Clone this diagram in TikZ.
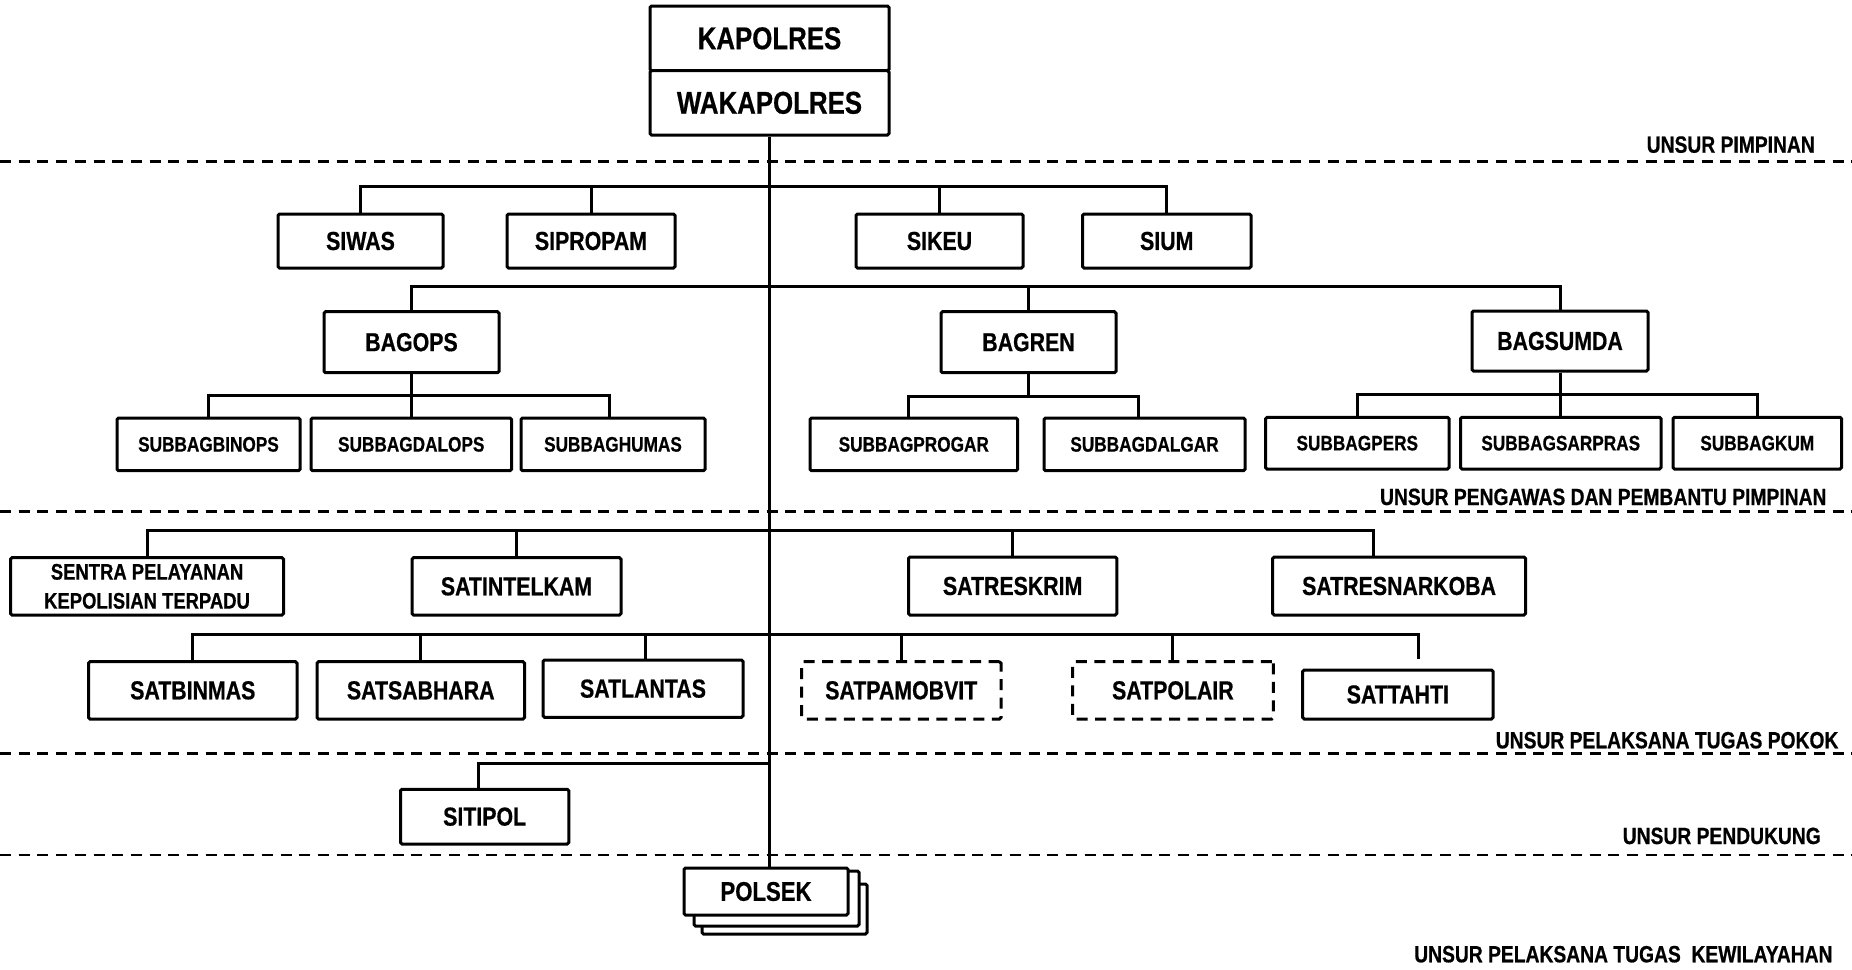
\documentclass[tikz,border=0pt]{standalone}
\usepackage{fontspec}
\setmainfont[FakeStretch=0.82,BoldFeatures={FakeBold=0.6}]{Liberation Sans}
\newcommand\mkbox[7]{%
  \node[#1, minimum width={(#5)-(#3)}, minimum height={(#6)-(#4)}] (#2) at ({((#3)+(#5))/2},{((#4)+(#6))/2}) {#7};}
\begin{document}
\begin{tikzpicture}[x=1pt,y=-1pt,
  box/.style={draw, line width=3pt, fill=white, inner sep=0pt, align=center, rounded corners=1.5pt,
              font=\fontsize{26}{30}\selectfont\bfseries},
  dbox/.style={box, dash pattern=on 11pt off 7.5pt},
  big/.style={font=\fontsize{31.5}{36}\selectfont\bfseries},
  small/.style={font=\fontsize{21}{25}\selectfont\bfseries},
  two/.style={font=\fontsize{22.5}{29}\selectfont\bfseries},
  pol/.style={font=\fontsize{27}{31}\selectfont\bfseries},
  conn/.style={line width=3pt},
  sep/.style={line width=2.7pt, dash pattern=on 11pt off 7.7pt},
  lbl/.style={inner sep=0pt, font=\fontsize{23.5}{27}\selectfont\bfseries}]
\useasboundingbox (0,0) rectangle (1852,969);

% separators
\draw[sep] (0,161.7) -- (1852,161.7);
\draw[sep] (0,511.7) -- (1852,511.7);
\draw[sep] (0,753.3) -- (1852,753.3);
\draw[sep] (0,855) -- (1852,855);

% bus coordinates
\coordinate (b1) at (0,186.7);
\coordinate (b2) at (0,286);
\coordinate (b2a) at (0,395);
\coordinate (b2b) at (0,396);
\coordinate (b2c) at (0,394.3);
\coordinate (b3) at (0,530.7);
\coordinate (b4) at (0,634.3);
\coordinate (b5) at (0,763.3);

% boxes
\mkbox{box,big}{kap}{650}{6}{889}{70.7}{KAPOLRES}
\mkbox{box,big}{wak}{650}{70.7}{889}{135}{WAKAPOLRES}
\mkbox{box}{siwas}{278}{214}{443}{268}{SIWAS}
\mkbox{box}{sipropam}{507}{214}{675}{268}{SIPROPAM}
\mkbox{box}{sikeu}{856}{214}{1023}{268}{SIKEU}
\mkbox{box}{sium}{1082.5}{214}{1251}{268}{SIUM}
\mkbox{box}{bagops}{324}{311.7}{499}{372.7}{BAGOPS}
\mkbox{box}{bagren}{941}{311.7}{1116}{372.7}{BAGREN}
\mkbox{box}{bagsumda}{1472}{311}{1648}{371}{BAGSUMDA}
\mkbox{box,small}{sbbinops}{117}{418}{300}{470.7}{SUBBAGBINOPS}
\mkbox{box,small}{sbdalops}{311}{418}{511.5}{470.7}{SUBBAGDALOPS}
\mkbox{box,small}{sbhumas}{521}{418}{705}{470.7}{SUBBAGHUMAS}
\mkbox{box,small}{sbprogar}{810}{418}{1017.6}{470.7}{SUBBAGPROGAR}
\mkbox{box,small}{sbdalgar}{1044}{418}{1245}{470.7}{SUBBAGDALGAR}
\mkbox{box,small}{sbpers}{1265.6}{417.3}{1449}{469}{SUBBAGPERS}
\mkbox{box,small}{sbsarpras}{1460.5}{417.3}{1661}{469}{SUBBAGSARPRAS}
\mkbox{box,small}{sbkum}{1673}{417.3}{1841.5}{469}{SUBBAGKUM}
\mkbox{box,two}{sentra}{10.6}{557.7}{283.5}{615}{SENTRA PELAYANAN\\KEPOLISIAN TERPADU}
\mkbox{box}{satintel}{412}{557.7}{621}{615}{SATINTELKAM}
\mkbox{box}{satres}{908.5}{557}{1116.8}{615}{SATRESKRIM}
\mkbox{box}{satnark}{1272.7}{557}{1525.5}{615}{SATRESNARKOBA}
\mkbox{box}{satbin}{88.6}{661.7}{297}{719}{SATBINMAS}
\mkbox{box}{satsab}{317}{661.7}{524.5}{719}{SATSABHARA}
\mkbox{box}{satlan}{543}{660}{743}{717.3}{SATLANTAS}
\mkbox{dbox}{satpam}{801.5}{661.7}{1001}{719}{SATPAMOBVIT}
\mkbox{dbox}{satpol}{1072.5}{661.7}{1273.3}{719}{SATPOLAIR}
\mkbox{box}{sattah}{1302.7}{670}{1493}{719}{SATTAHTI}
\mkbox{box}{sitipol}{400.5}{789.3}{568.8}{844}{SITIPOL}
\mkbox{box}{polsekc}{702}{884}{867}{934}{}
\mkbox{box}{polsekb}{694}{871}{859}{926}{}
\mkbox{box,pol}{polsek}{684}{868}{848}{915}{POLSEK}

% connectors
\draw[conn] (wak.south) -- (wak.south |- polsek.north);
\draw[conn] (siwas.north) |- (sium.north |- b1) -- (sium.north);
\draw[conn] (sipropam.north) -- (sipropam.north |- b1);
\draw[conn] (sikeu.north) -- (sikeu.north |- b1);

\draw[conn] (bagops.north) |- (bagsumda.north |- b2) -- (bagsumda.north);
\draw[conn] (bagren.north) -- (bagren.north |- b2);

\draw[conn] (sbbinops.north) |- ([xshift=-3.4]sbhumas.north |- b2a) -- ([xshift=-3.4]sbhumas.north);
\draw[conn] (bagops.south) -- (bagops.south |- sbdalops.north);

\draw[conn] ([xshift=-5.3]sbprogar.north) |- ([xshift=-5.9]sbdalgar.north |- b2b) -- ([xshift=-5.9]sbdalgar.north);
\draw[conn] (bagren.south) -- (bagren.south |- b2b);

\draw[conn] (sbpers.north) |- (sbkum.north |- b2c) -- (sbkum.north);
\draw[conn] (bagsumda.south) -- (bagsumda.south |- sbsarpras.north);

\draw[conn] (sentra.north) |- ([xshift=-26]satnark.north |- b3) -- ([xshift=-26]satnark.north);
\draw[conn] (satintel.north) -- (satintel.north |- b3);
\draw[conn] (satres.north) -- (satres.north |- b3);

\draw[conn] (satbin.north) |- ([xshift=20.2]sattah.north |- b4) -- ([xshift=20.2,yshift=9.3]sattah.north);
\draw[conn] (satsab.north) -- (satsab.north |- b4);
\draw[conn] ([xshift=2]satlan.north) -- ([xshift=2]satlan.north |- b4);
\draw[conn] (satpam.north) -- (satpam.north |- b4);
\draw[conn] (satpol.north) -- (satpol.north |- b4);

\draw[conn] (wak.south |- b5) -| ([xshift=-6.3]sitipol.north);

% labels
\node[lbl, anchor=base east] (l1) at (1815,152.7) {UNSUR PIMPINAN};
\node[lbl, anchor=base east] (l2) at (1826.7,505) {UNSUR PENGAWAS DAN PEMBANTU PIMPINAN};
\node[lbl, anchor=base east] (l3) at (1838.6,748.3) {UNSUR PELAKSANA TUGAS POKOK};
\node[lbl, anchor=base east] (l4) at (1821,844) {UNSUR PENDUKUNG};
\node[lbl, anchor=base east] (l5) at (1832.7,962.3) {UNSUR PELAKSANA TUGAS\ \ KEWILAYAHAN};
\end{tikzpicture}
\end{document}
